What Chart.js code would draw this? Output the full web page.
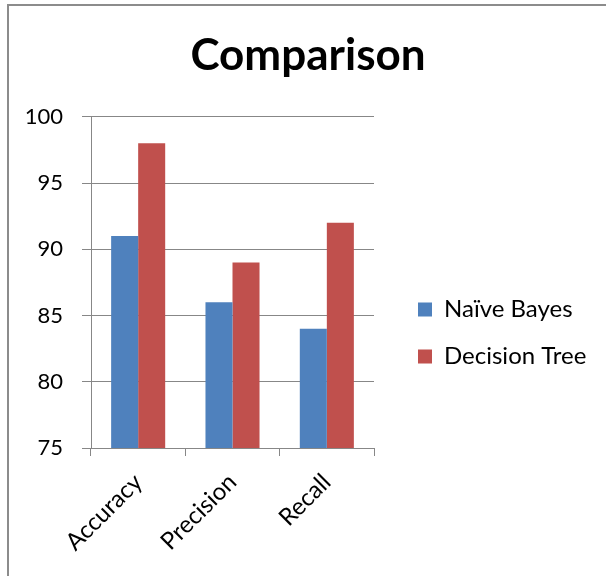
<!DOCTYPE html>
<html lang="en">
<head>
  <meta charset="UTF-8" />
  <title>Comparison</title>
  <script src="https://cdn.jsdelivr.net/npm/chart.js"></script>
  <style>
    body {
      margin: 0;
      background: #ffffff;
      overflow: hidden;
    }
    .frame {
      position: absolute;
      left: 7px;
      top: 4px;
      width: 800px;
      height: 800px;
      border-left: 2px solid #8c8c8c;
      border-top: 2px solid #8c8c8c;
    }
    .chart-box {
      position: absolute;
      left: 0;
      top: 0;
      width: 606px;
      height: 576px;
    }
  </style>
</head>
<body>
  <div class="frame"></div>
  <div class="chart-box"><canvas id="cmp"></canvas></div>

  <script>
    const categories = ["Accuracy", "Precision", "Recall"];
    const naiveBayes = [91, 86, 84];
    const decisionTree = [98, 89, 92];
    const seriesNames = ["Naïve Bayes", "Decision Tree"];

    const gridGray = "#878787";
    const font = "Lato, 'Open Sans', sans-serif";

    // legend sits a bit away from the plot, like the office chart
    const legendPlace = {
      id: "legendPlace",
      beforeLayout(chart) {
        const lg = chart.legend;
        if (lg && !lg._patched) {
          const fit = lg.fit;
          lg.fit = function () {
            fit.call(this);
            this.width = 232;
          };
          lg._patched = true;
        }
      },
      afterLayout(chart) {
        const lg = chart.legend;
        lg.left += 21;
        lg.right += 21;
        lg.top = 274.5;
      }
    };

    const ctx = document.getElementById("cmp").getContext("2d");
    new Chart(ctx, {
      type: "bar",
      data: {
        labels: categories,
        datasets: [
          {
            label: seriesNames[0],
            data: naiveBayes,
            backgroundColor: "#4f81bd",
            borderWidth: 0
          },
          {
            label: seriesNames[1],
            data: decisionTree,
            backgroundColor: "#c0504d",
            borderWidth: 0
          }
        ]
      },
      options: {
        responsive: true,
        maintainAspectRatio: false,
        animation: false,
        layout: { padding: { left: 10, top: 6, right: 0, bottom: 0 } },
        datasets: {
          bar: { categoryPercentage: 0.573, barPercentage: 1 }
        },
        scales: {
          x: {
            afterFit: s => { s.height = 128; },
            grid: {
              offset: true,
              drawOnChartArea: false,
              tickLength: 8,
              color: gridGray
            },
            border: { color: gridGray },
            ticks: {
              autoSkip: false,
              minRotation: 45,
              maxRotation: 45,
              padding: 12,
              color: "#000",
              font: { family: font, size: 24 }
            }
          },
          y: {
            min: 75,
            max: 100,
            afterFit: s => { s.width = 81; },
            grid: { color: gridGray, tickLength: 9 },
            border: { color: gridGray },
            ticks: {
              stepSize: 5,
              padding: 19,
              color: "#000",
              font: { family: font, size: 22 }
            }
          }
        },
        plugins: {
          title: {
            display: true,
            text: "Comparison",
            color: "#000",
            font: { family: font, size: 44, weight: "bold" },
            padding: { top: 23, bottom: 35 }
          },
          legend: {
            position: "right",
            align: "start",
            labels: {
              boxWidth: 14,
              boxHeight: 14,
              padding: 23,
              color: "#000",
              font: { family: font, size: 24 }
            }
          },
          tooltip: { enabled: false }
        }
      },
      plugins: [legendPlace]
    });
  </script>
</body>
</html>
